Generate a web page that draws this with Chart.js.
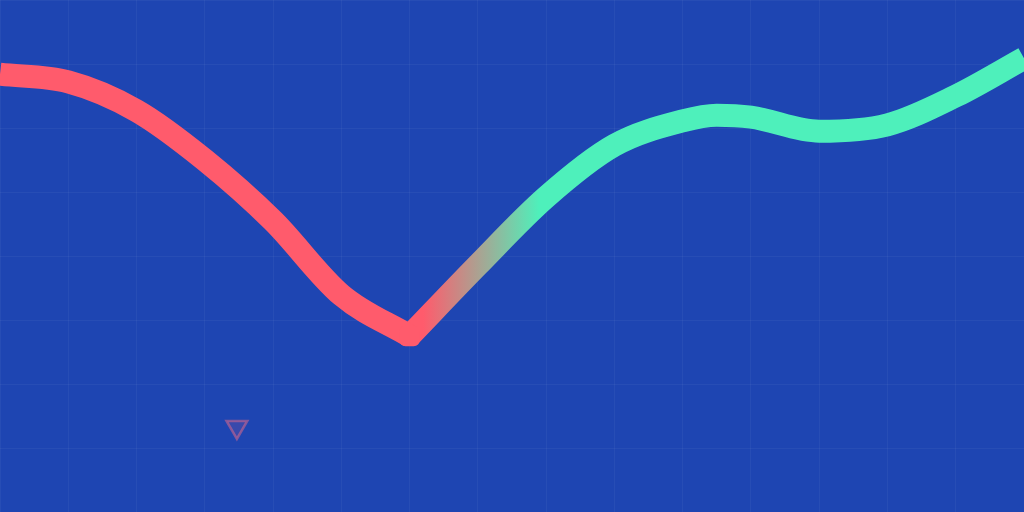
<!DOCTYPE html>
<html>
<head>
<meta charset="utf-8">
<script src="https://cdn.jsdelivr.net/npm/chart.js@4/dist/chart.umd.min.js"></script>
<style>
    html, body { margin: 0; padding: 0; background: #1e45b2; }
    #wrap { width: 1024px; height: 512px; position: relative; }
</style>
</head>
<body>
<div id="wrap"><canvas id="curveChart"></canvas></div>
<script>
// x in grid columns (15 columns), y on a 0-80 scale
const fallX = [0, 1, 2, 3, 4, 5, 6];
const fallY = [68.4, 67.2, 62.7, 55.0, 45.5, 33.9, 27.5];
const riseX = [6, 7, 8, 9, 10, 10.5, 11, 12, 13, 14, 15];
const riseY = [27.5, 38.6, 49.2, 57.3, 61.1, 62.0, 61.7, 59.5, 60.5, 65.0, 70.9];
const markerX = [3.47];
const markerY = [13.3];

const toPoints = (xs, ys) => xs.map((x, i) => ({ x: x, y: ys[i] }));

document.addEventListener("DOMContentLoaded", () => {
    const ctx = document.getElementById("curveChart").getContext("2d");

    const red = "#ff5b6c";
    const green = "#4ef0bb";

    // red -> green fade at the start of the rising part
    function riseColor(context) {
        const chart = context.chart;
        if (!chart.chartArea) return green;
        const x = chart.scales.x;
        const g = chart.ctx.createLinearGradient(x.getPixelForValue(6.2), 0, x.getPixelForValue(7.9), 0);
        g.addColorStop(0, red);
        g.addColorStop(1, green);
        return g;
    }

    new Chart(ctx, {
        type: "line",
        data: {
            datasets: [
                {
                    data: toPoints(fallX, fallY),
                    borderColor: red,
                    backgroundColor: red,
                    borderWidth: 23,
                    cubicInterpolationMode: "monotone",
                    pointStyle: "rectRounded",
                    pointRadius: c => c.dataIndex === fallX.length - 1 ? 12 : 0,
                    pointBorderWidth: 0,
                    order: 1
                },
                {
                    data: toPoints(riseX, riseY),
                    borderColor: riseColor,
                    borderWidth: 23,
                    cubicInterpolationMode: "monotone",
                    pointRadius: 0,
                    order: 2
                },
                {
                    data: toPoints(markerX, markerY),
                    showLine: false,
                    pointStyle: "triangle",
                    rotation: 180,
                    pointRadius: 12,
                    pointBorderWidth: 2.5,
                    borderColor: "rgba(255, 110, 130, 0.45)",
                    backgroundColor: "rgba(255, 110, 130, 0.12)"
                }
            ]
        },
        options: {
            responsive: true,
            maintainAspectRatio: false,
            animation: false,
            layout: { padding: 0, autoPadding: false },
            plugins: {
                legend: { display: false },
                tooltip: { enabled: false }
            },
            scales: {
                x: {
                    type: "linear",
                    min: 0,
                    max: 15,
                    ticks: { display: false, stepSize: 1 },
                    grid: { color: "rgba(255, 255, 255, 0.045)", drawTicks: false },
                    border: { display: false }
                },
                y: {
                    min: 0,
                    max: 80,
                    ticks: { display: false, stepSize: 10 },
                    grid: { color: "rgba(255, 255, 255, 0.045)", drawTicks: false },
                    border: { display: false }
                }
            }
        }
    });
});
</script>
</body>
</html>
